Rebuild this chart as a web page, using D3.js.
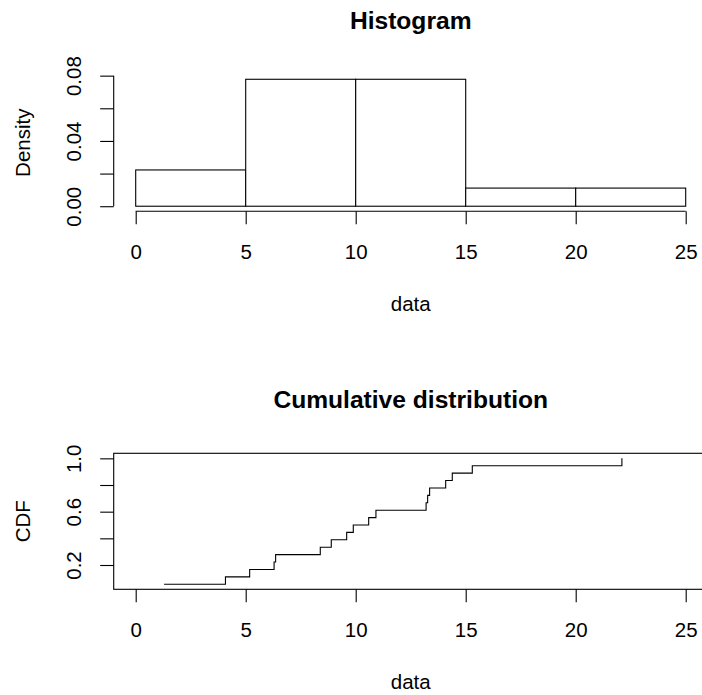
<!DOCTYPE html>
<html>
<head>
<meta charset="utf-8">
<script src="https://cdn.jsdelivr.net/npm/d3@7"></script>
<style>
  html, body { margin: 0; padding: 0; background: #fff; }
  svg { display: block; }
  text { font-family: "Liberation Sans", Arial, Helvetica, sans-serif; fill: #000; }
  .axis path.domain { display: none; }
  .axis line, .frame, .bar, .step { stroke: #000; stroke-width: 1.1; }
</style>
</head>
<body>
<svg id="chart" width="702" height="695"></svg>
<script>
// Sample observations (sorted)
const values = [1.29, 4.08, 5.18, 6.29, 6.36, 8.39, 8.89, 9.59, 9.89,
                10.59, 10.92, 13.20, 13.27, 13.36, 14.09, 14.39, 15.30, 22.10];
// Histogram bin edges
const breaks = [0, 5, 10, 15, 20, 25];
// Axis ticks and the subset that gets a label
const xTicks = [0, 5, 10, 15, 20, 25];
const densityTicks = [0, 0.02, 0.04, 0.06, 0.08];
const densityLabels = [0, 0.04, 0.08];
const cdfTicks = [0.2, 0.4, 0.6, 0.8, 1.0];
const cdfLabels = [0.2, 0.6, 1.0];

const svg = d3.select("#chart");
const n = values.length;
const LABEL = 20.5, TITLE = 24.6;

// Plot regions (pixel layout)
const left = 113.7, right = 707.7;
const panels = {
  hist: { top: 74.2, bottom: 211.3 },
  cdf:  { top: 453.3, bottom: 589.3 }
};

// pad a [lo, hi] range by 4% at each end
const pad = ([lo, hi]) => { const r = hi - lo; return [lo - 0.04 * r, hi + 0.04 * r]; };

const x = d3.scaleLinear().domain(pad([breaks[0], breaks[breaks.length - 1]])).range([left, right]);

// ---------- Histogram ----------
const bins = d3.bin().domain([breaks[0], breaks[breaks.length - 1]]).thresholds(breaks.slice(1, -1))(values);
const dens = bins.map(b => ({ x0: b.x0, x1: b.x1, d: b.length / (n * (b.x1 - b.x0)) }));
const maxD = d3.max(dens, d => d.d);
const yH = d3.scaleLinear().domain(pad([0, maxD])).range([panels.hist.bottom, panels.hist.top]);

const gH = svg.append("g");
gH.selectAll("rect.bar").data(dens).join("rect")
  .attr("class", "bar")
  .attr("x", d => x(d.x0)).attr("width", d => x(d.x1) - x(d.x0))
  .attr("y", d => yH(d.d)).attr("height", d => yH(0) - yH(d.d))
  .attr("fill", "#fff");

function xAxis(g, yPos) {
  const ax = g.append("g").attr("class", "axis").attr("transform", `translate(0,${yPos})`)
    .call(d3.axisBottom(x).tickValues(xTicks).tickSize(13).tickSizeOuter(0).tickFormat(d3.format("d")));
  ax.selectAll("text").attr("y", 47.3).attr("dy", null).style("font-size", LABEL + "px");
  ax.append("line").attr("x1", x(xTicks[0])).attr("x2", x(xTicks[xTicks.length - 1]));
  g.append("text").attr("x", (left + right) / 2).attr("y", yPos + 99.3)
    .attr("text-anchor", "middle").style("font-size", LABEL + "px").text("data");
}

function yAxis(g, scale, ticks, labels, fmt, title, top, bottom) {
  const ax = g.append("g").attr("class", "axis").attr("transform", `translate(${left},0)`)
    .call(d3.axisLeft(scale).tickValues(ticks).tickSize(13.5).tickSizeOuter(0)
      .tickFormat(d => labels.some(v => Math.abs(v - d) < 1e-9) ? d3.format(fmt)(d) : ""));
  ax.selectAll("text")
    .attr("x", null).attr("dy", null)
    .attr("transform", "translate(-32.3,0) rotate(-90)")
    .attr("text-anchor", "middle").style("font-size", LABEL + "px");
  ax.append("line").attr("y1", scale(ticks[0])).attr("y2", scale(ticks[ticks.length - 1]));
  g.append("text")
    .attr("transform", `translate(29.8,${(top + bottom) / 2}) rotate(-90)`)
    .attr("text-anchor", "middle").style("font-size", LABEL + "px").text(title);
}

function mainTitle(g, top, label) {
  g.append("text").attr("x", (left + right) / 2).attr("y", top - 45.2)
    .attr("text-anchor", "middle").style("font-size", TITLE + "px").style("font-weight", "bold")
    .text(label);
}

xAxis(gH, panels.hist.bottom);
yAxis(gH, yH, densityTicks, densityLabels, ".2f", "Density", panels.hist.top, panels.hist.bottom);
mainTitle(gH, panels.hist.top, "Histogram");

// ---------- Cumulative distribution ----------
const sorted = values.slice().sort(d3.ascending);
const pts = sorted.map((v, i) => [v, (i + 1) / n]);
const yC = d3.scaleLinear().domain(pad([1 / n, 1])).range([panels.cdf.bottom, panels.cdf.top]);

const gC = svg.append("g");
gC.append("rect").attr("class", "frame")
  .attr("x", left).attr("y", panels.cdf.top)
  .attr("width", right - left).attr("height", panels.cdf.bottom - panels.cdf.top)
  .attr("fill", "none");

gC.append("path").attr("class", "step").attr("fill", "none")
  .attr("d", d3.line().x(d => x(d[0])).y(d => yC(d[1])).curve(d3.curveStepAfter)(pts));

xAxis(gC, panels.cdf.bottom);
yAxis(gC, yC, cdfTicks, cdfLabels, ".1f", "CDF", panels.cdf.top, panels.cdf.bottom);
gC.selectAll(".axis > line:last-child").remove();
mainTitle(gC, panels.cdf.top, "Cumulative distribution");
</script>
</body>
</html>
